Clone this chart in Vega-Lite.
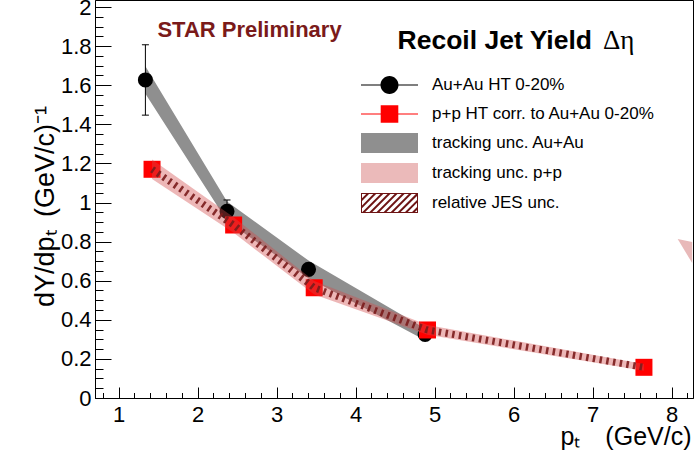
{
  "$schema": "https://vega.github.io/schema/vega-lite/v6.json",
  "width": 598,
  "height": 398,
  "autosize": {"type": "none"},
  "padding": {"left": 95, "top": 0, "right": 1, "bottom": 60},
  "background": "white",
  "config": {
    "view": {"stroke": "black", "strokeWidth": 1},
    "axis": {"domainColor": "black", "tickColor": "black", "labelColor": "black", "titleColor": "black", "labelFont": "Liberation Sans", "titleFont": "Liberation Sans", "titleFontWeight": "normal", "labelOverlap": false, "labelFlush": false}
  },
  "datasets": {
    "auau": [
      {"pt": 1.338, "y": 1.627, "ylo": 1.447, "yhi": 1.807, "lo": 1.557, "hi": 1.697},
      {"pt": 2.371, "y": 0.955, "ylo": 0.897, "yhi": 1.013, "lo": 0.905, "hi": 1.005},
      {"pt": 3.403, "y": 0.658, "ylo": 0.64, "yhi": 0.676, "lo": 0.613, "hi": 0.703},
      {"pt": 4.879, "y": 0.325, "ylo": 0.31, "yhi": 0.34, "lo": 0.295, "hi": 0.355}
    ],
    "pp": [
      {"pt": 1.422, "y": 1.17, "lo": 1.12, "hi": 1.22},
      {"pt": 2.455, "y": 0.885, "lo": 0.845, "hi": 0.925},
      {"pt": 3.475, "y": 0.564, "lo": 0.53, "hi": 0.598},
      {"pt": 4.909, "y": 0.348, "lo": 0.323, "hi": 0.373},
      {"pt": 7.649, "y": 0.157, "lo": 0.14, "hi": 0.174}
    ],
    "wedge": [
      {"pt": 8.076, "lo": 0.813, "hi": 0.813},
      {"pt": 8.26, "lo": 0.69, "hi": 0.798}
    ],
    "legend": [
      {"series": "Au+Au HT 0-20%"},
      {"series": "p+p HT corr. to Au+Au 0-20%"},
      {"series": "tracking unc. Au+Au"},
      {"series": "tracking unc. p+p"},
      {"series": "relative JES unc."}
    ],
    "star": [{"label": "STAR Preliminary"}],
    "title": [{"label": "Recoil Jet Yield"}],
    "deta": [{"label": "Δη"}]
  },
  "layer": [
    {
      "encoding": {
        "x": {
          "field": "pt", "type": "quantitative",
          "scale": {"domain": [0.7, 8.27], "nice": false, "zero": false},
          "axis": {"values": [0.8,1,1.2,1.4,1.6,1.8,2,2.2,2.4,2.6,2.8,3,3.2,3.4,3.6,3.8,4,4.2,4.4,4.6,4.8,5,5.2,5.4,5.6,5.8,6,6.2,6.4,6.6,6.8,7,7.2,7.4,7.6,7.8,8,8.2], "labelExpr": "abs(datum.value-round(datum.value))<0.001 ? '' + round(datum.value) : ''", "ticks": true, "tickSize": -11, "tickWidth": 1, "tickDash": {"condition": {"test": "abs(datum.value-round(datum.value))<0.001", "value": [11, 100]}, "value": [5.5, 100]}, "grid": false, "labelOverlap": false, "labelFontSize": 22, "labelPadding": 17, "labelBaseline": "top", "title": "pₜ\u2003(GeV/c)", "titleFontSize": 25, "titleAlign": "right", "titleAnchor": "end", "titleX": 596, "titleY": 46, "titleBaseline": "alphabetic"}
        },
        "y": {
          "field": "y", "type": "quantitative",
          "scale": {"domain": [0, 2.036], "nice": false, "zero": false},
          "axis": {"values": [0,0.05,0.1,0.15,0.2,0.25,0.3,0.35,0.4,0.45,0.5,0.55,0.6,0.65,0.7,0.75,0.8,0.85,0.9,0.95,1,1.05,1.1,1.15,1.2,1.25,1.3,1.35,1.4,1.45,1.5,1.55,1.6,1.65,1.7,1.75,1.8,1.85,1.9,1.95,2], "labelExpr": "abs(datum.value*5-round(datum.value*5))<0.001 ? '' + round(datum.value*10)/10 : ''", "ticks": true, "tickSize": -16, "tickWidth": 1, "tickDash": {"condition": {"test": "abs(datum.value*5-round(datum.value*5))<0.001", "value": [16, 100]}, "value": [8, 100]}, "grid": false, "labelOverlap": false, "labelFontSize": 22, "labelPadding": 20, "labelAlign": "right", "title": "dY/dpₜ\u2002(GeV/c)⁻¹", "titleFontSize": 27, "titleX": -50, "titleY": 206, "titleAlign": "center", "titleBaseline": "middle", "titleAngle": -90}
        }
      },
      "layer": [
        {
          "data": {"name": "auau"},
          "mark": {"type": "area", "color": "#8f8f8f", "opacity": 1},
          "encoding": {"y": {"field": "lo", "type": "quantitative"}, "y2": {"field": "hi"}}
        },
        {
          "data": {"name": "auau"},
          "mark": {"type": "rule", "color": "black", "strokeWidth": 1},
          "encoding": {"y": {"field": "ylo", "type": "quantitative"}, "y2": {"field": "yhi"}}
        },
        {
          "data": {"name": "auau"},
          "mark": {"type": "tick", "orient": "horizontal", "color": "black", "size": 7, "thickness": 1, "opacity": 1},
          "encoding": {"y": {"field": "yhi", "type": "quantitative"}}
        },
        {
          "data": {"name": "auau"},
          "mark": {"type": "tick", "orient": "horizontal", "color": "black", "size": 7, "thickness": 1, "opacity": 1},
          "encoding": {"y": {"field": "ylo", "type": "quantitative"}}
        },
        {
          "data": {"name": "auau"},
          "mark": {"type": "point", "shape": "circle", "filled": true, "color": "black", "size": 227, "opacity": 1}
        },
        {
          "data": {"name": "pp"},
          "mark": {"type": "square", "color": "#ff0000", "size": 289, "opacity": 1}
        },
        {
          "data": {"name": "pp"},
          "mark": {"type": "area", "color": "#d24a4a", "opacity": 0.4},
          "encoding": {"y": {"field": "lo", "type": "quantitative"}, "y2": {"field": "hi"}}
        },
        {
          "data": {"name": "pp"},
          "mark": {"type": "line", "color": "#7a1c1c", "strokeWidth": 7, "strokeDash": [2.5, 4.3], "strokeCap": "butt", "opacity": 0.9},
          "encoding": {}
        },
        {
          "data": {"name": "wedge"},
          "mark": {"type": "area", "color": "#e8b9b9", "opacity": 1, "clip": true},
          "encoding": {"y": {"field": "lo", "type": "quantitative"}, "y2": {"field": "hi"}}
        }
      ]
    },
    {
      "data": {"name": "star"},
      "mark": {"type": "text", "font": "Liberation Sans", "fontWeight": "bold", "fontSize": 22, "color": "#7a1a1a", "align": "left", "baseline": "alphabetic"},
      "encoding": {
        "x": {"datum": 1.49, "type": "quantitative", "axis": {"values": [0.8,1,1.2,1.4,1.6,1.8,2,2.2,2.4,2.6,2.8,3,3.2,3.4,3.6,3.8,4,4.2,4.4,4.6,4.8,5,5.2,5.4,5.6,5.8,6,6.2,6.4,6.6,6.8,7,7.2,7.4,7.6,7.8,8,8.2], "labelExpr": "abs(datum.value-round(datum.value))<0.001 ? '' + round(datum.value) : ''", "ticks": true, "tickSize": -11, "tickWidth": 1, "tickDash": {"condition": {"test": "abs(datum.value-round(datum.value))<0.001", "value": [11, 100]}, "value": [5.5, 100]}, "grid": false, "labelOverlap": false, "labelFontSize": 22, "labelPadding": 17, "labelBaseline": "top", "title": "pₜ\u2003(GeV/c)", "titleFontSize": 25, "titleAlign": "right", "titleAnchor": "end", "titleX": 596, "titleY": 46, "titleBaseline": "alphabetic"}},
        "y": {"datum": 1.845, "type": "quantitative", "axis": {"values": [0,0.05,0.1,0.15,0.2,0.25,0.3,0.35,0.4,0.45,0.5,0.55,0.6,0.65,0.7,0.75,0.8,0.85,0.9,0.95,1,1.05,1.1,1.15,1.2,1.25,1.3,1.35,1.4,1.45,1.5,1.55,1.6,1.65,1.7,1.75,1.8,1.85,1.9,1.95,2], "labelExpr": "abs(datum.value*5-round(datum.value*5))<0.001 ? '' + round(datum.value*10)/10 : ''", "ticks": true, "tickSize": -16, "tickWidth": 1, "tickDash": {"condition": {"test": "abs(datum.value*5-round(datum.value*5))<0.001", "value": [16, 100]}, "value": [8, 100]}, "grid": false, "labelOverlap": false, "labelFontSize": 22, "labelPadding": 20, "labelAlign": "right", "title": "dY/dpₜ\u2002(GeV/c)⁻¹", "titleFontSize": 27, "titleX": -50, "titleY": 206, "titleAlign": "center", "titleBaseline": "middle", "titleAngle": -90}},
        "text": {"field": "label"}
      }
    },
    {
      "data": {"name": "title"},
      "mark": {"type": "text", "font": "Liberation Sans", "fontWeight": "bold", "fontSize": 26.5, "color": "black", "align": "left", "baseline": "alphabetic"},
      "encoding": {
        "x": {"datum": 4.53, "type": "quantitative", "axis": {"values": [0.8,1,1.2,1.4,1.6,1.8,2,2.2,2.4,2.6,2.8,3,3.2,3.4,3.6,3.8,4,4.2,4.4,4.6,4.8,5,5.2,5.4,5.6,5.8,6,6.2,6.4,6.6,6.8,7,7.2,7.4,7.6,7.8,8,8.2], "labelExpr": "abs(datum.value-round(datum.value))<0.001 ? '' + round(datum.value) : ''", "ticks": true, "tickSize": -11, "tickWidth": 1, "tickDash": {"condition": {"test": "abs(datum.value-round(datum.value))<0.001", "value": [11, 100]}, "value": [5.5, 100]}, "grid": false, "labelOverlap": false, "labelFontSize": 22, "labelPadding": 17, "labelBaseline": "top", "title": "pₜ\u2003(GeV/c)", "titleFontSize": 25, "titleAlign": "right", "titleAnchor": "end", "titleX": 596, "titleY": 46, "titleBaseline": "alphabetic"}},
        "y": {"datum": 1.785, "type": "quantitative", "axis": {"values": [0,0.05,0.1,0.15,0.2,0.25,0.3,0.35,0.4,0.45,0.5,0.55,0.6,0.65,0.7,0.75,0.8,0.85,0.9,0.95,1,1.05,1.1,1.15,1.2,1.25,1.3,1.35,1.4,1.45,1.5,1.55,1.6,1.65,1.7,1.75,1.8,1.85,1.9,1.95,2], "labelExpr": "abs(datum.value*5-round(datum.value*5))<0.001 ? '' + round(datum.value*10)/10 : ''", "ticks": true, "tickSize": -16, "tickWidth": 1, "tickDash": {"condition": {"test": "abs(datum.value*5-round(datum.value*5))<0.001", "value": [16, 100]}, "value": [8, 100]}, "grid": false, "labelOverlap": false, "labelFontSize": 22, "labelPadding": 20, "labelAlign": "right", "title": "dY/dpₜ\u2002(GeV/c)⁻¹", "titleFontSize": 27, "titleX": -50, "titleY": 206, "titleAlign": "center", "titleBaseline": "middle", "titleAngle": -90}},
        "text": {"field": "label"}
      }
    },
    {
      "data": {"name": "deta"},
      "mark": {"type": "text", "font": "Liberation Serif", "fontSize": 27, "color": "black", "align": "left", "baseline": "alphabetic"},
      "encoding": {
        "x": {"datum": 7.13, "type": "quantitative", "axis": {"values": [0.8,1,1.2,1.4,1.6,1.8,2,2.2,2.4,2.6,2.8,3,3.2,3.4,3.6,3.8,4,4.2,4.4,4.6,4.8,5,5.2,5.4,5.6,5.8,6,6.2,6.4,6.6,6.8,7,7.2,7.4,7.6,7.8,8,8.2], "labelExpr": "abs(datum.value-round(datum.value))<0.001 ? '' + round(datum.value) : ''", "ticks": true, "tickSize": -11, "tickWidth": 1, "tickDash": {"condition": {"test": "abs(datum.value-round(datum.value))<0.001", "value": [11, 100]}, "value": [5.5, 100]}, "grid": false, "labelOverlap": false, "labelFontSize": 22, "labelPadding": 17, "labelBaseline": "top", "title": "pₜ\u2003(GeV/c)", "titleFontSize": 25, "titleAlign": "right", "titleAnchor": "end", "titleX": 596, "titleY": 46, "titleBaseline": "alphabetic"}},
        "y": {"datum": 1.785, "type": "quantitative", "axis": {"values": [0,0.05,0.1,0.15,0.2,0.25,0.3,0.35,0.4,0.45,0.5,0.55,0.6,0.65,0.7,0.75,0.8,0.85,0.9,0.95,1,1.05,1.1,1.15,1.2,1.25,1.3,1.35,1.4,1.45,1.5,1.55,1.6,1.65,1.7,1.75,1.8,1.85,1.9,1.95,2], "labelExpr": "abs(datum.value*5-round(datum.value*5))<0.001 ? '' + round(datum.value*10)/10 : ''", "ticks": true, "tickSize": -16, "tickWidth": 1, "tickDash": {"condition": {"test": "abs(datum.value*5-round(datum.value*5))<0.001", "value": [16, 100]}, "value": [8, 100]}, "grid": false, "labelOverlap": false, "labelFontSize": 22, "labelPadding": 20, "labelAlign": "right", "title": "dY/dpₜ\u2002(GeV/c)⁻¹", "titleFontSize": 27, "titleX": -50, "titleY": 206, "titleAlign": "center", "titleBaseline": "middle", "titleAngle": -90}},
        "text": {"field": "label"}
      }
    },
    {
      "data": {"name": "legend"},
      "mark": {"type": "point", "filled": true, "opacity": 0},
      "encoding": {
        "x": {"datum": 5, "type": "quantitative", "axis": {"values": [0.8,1,1.2,1.4,1.6,1.8,2,2.2,2.4,2.6,2.8,3,3.2,3.4,3.6,3.8,4,4.2,4.4,4.6,4.8,5,5.2,5.4,5.6,5.8,6,6.2,6.4,6.6,6.8,7,7.2,7.4,7.6,7.8,8,8.2], "labelExpr": "abs(datum.value-round(datum.value))<0.001 ? '' + round(datum.value) : ''", "ticks": true, "tickSize": -11, "tickWidth": 1, "tickDash": {"condition": {"test": "abs(datum.value-round(datum.value))<0.001", "value": [11, 100]}, "value": [5.5, 100]}, "grid": false, "labelOverlap": false, "labelFontSize": 22, "labelPadding": 17, "labelBaseline": "top", "title": "pₜ\u2003(GeV/c)", "titleFontSize": 25, "titleAlign": "right", "titleAnchor": "end", "titleX": 596, "titleY": 46, "titleBaseline": "alphabetic"}},
        "y": {"datum": 1, "type": "quantitative", "axis": {"values": [0,0.05,0.1,0.15,0.2,0.25,0.3,0.35,0.4,0.45,0.5,0.55,0.6,0.65,0.7,0.75,0.8,0.85,0.9,0.95,1,1.05,1.1,1.15,1.2,1.25,1.3,1.35,1.4,1.45,1.5,1.55,1.6,1.65,1.7,1.75,1.8,1.85,1.9,1.95,2], "labelExpr": "abs(datum.value*5-round(datum.value*5))<0.001 ? '' + round(datum.value*10)/10 : ''", "ticks": true, "tickSize": -16, "tickWidth": 1, "tickDash": {"condition": {"test": "abs(datum.value*5-round(datum.value*5))<0.001", "value": [16, 100]}, "value": [8, 100]}, "grid": false, "labelOverlap": false, "labelFontSize": 22, "labelPadding": 20, "labelAlign": "right", "title": "dY/dpₜ\u2002(GeV/c)⁻¹", "titleFontSize": 27, "titleX": -50, "titleY": 206, "titleAlign": "center", "titleBaseline": "middle", "titleAngle": -90}},
        "color": {
          "field": "series", "type": "nominal",
          "scale": {
            "domain": ["Au+Au HT 0-20%", "p+p HT corr. to Au+Au 0-20%", "tracking unc. Au+Au", "tracking unc. p+p", "relative JES unc."],
            "range": ["#000000", "#ff0000", "#8f8f8f", "#ebbaba", "#6e1414"]
          },
          "legend": {"orient": "none", "legendX": 284.5, "legendY": 75, "title": null, "symbolSize": 400, "symbolStrokeWidth": 0, "symbolOpacity": 1, "labelFont": "Liberation Sans", "labelFontSize": 17, "labelColor": "black", "labelOffset": 32.5, "rowPadding": 10, "padding": 0, "labelLimit": 400}
        },
        "shape": {
          "field": "series", "type": "nominal",
          "scale": {
            "domain": ["Au+Au HT 0-20%", "p+p HT corr. to Au+Au 0-20%", "tracking unc. Au+Au", "tracking unc. p+p", "relative JES unc."],
            "range": [
              "M-2.85,-0.06H2.85V0.06H-2.85Z M0.9,0 A0.9,0.9 0 1,1 -0.9,0 A0.9,0.9 0 1,1 0.9,0 Z",
              "M-2.85,-0.06H2.85V0.06H-2.85Z M-0.88,-0.88H0.88V0.88H-0.88Z",
              "M-2.85,-1H2.85V1H-2.85Z",
              "M-2.85,-1H2.85V1H-2.85Z",
              "M-2.85,-1H2.85V1H-2.85Z M-2.75,-0.9V0.9H2.75V-0.9Z M-2.71,0.9L-0.91,-0.9H-0.63L-2.43,0.9Z M-2.0,0.9L-0.2,-0.9H0.08L-1.72,0.9Z M-1.29,0.9L0.51,-0.9H0.79L-1.01,0.9Z M-0.58,0.9L1.22,-0.9H1.5L-0.3,0.9Z M0.13,0.9L1.93,-0.9H2.21L0.41,0.9Z M0.84,0.9L2.64,-0.9H2.75V-0.71L1.12,0.9Z M1.55,0.9L2.75,-0.3V-0.02L1.83,0.9Z M2.26,0.9L2.75,0.41V0.69L2.54,0.9Z M-2.75,0.24L-1.62,-0.9H-1.34L-2.75,0.52Z M-2.75,-0.47L-2.33,-0.9H-2.05L-2.75,-0.19Z"
            ]
          },
          "legend": {"orient": "none", "legendX": 284.5, "legendY": 75, "title": null, "symbolSize": 400, "symbolStrokeWidth": 0, "symbolOpacity": 1, "labelFont": "Liberation Sans", "labelFontSize": 17, "labelColor": "black", "labelOffset": 32.5, "rowPadding": 10, "padding": 0, "labelLimit": 400}
        }
      }
    }
  ]
}
